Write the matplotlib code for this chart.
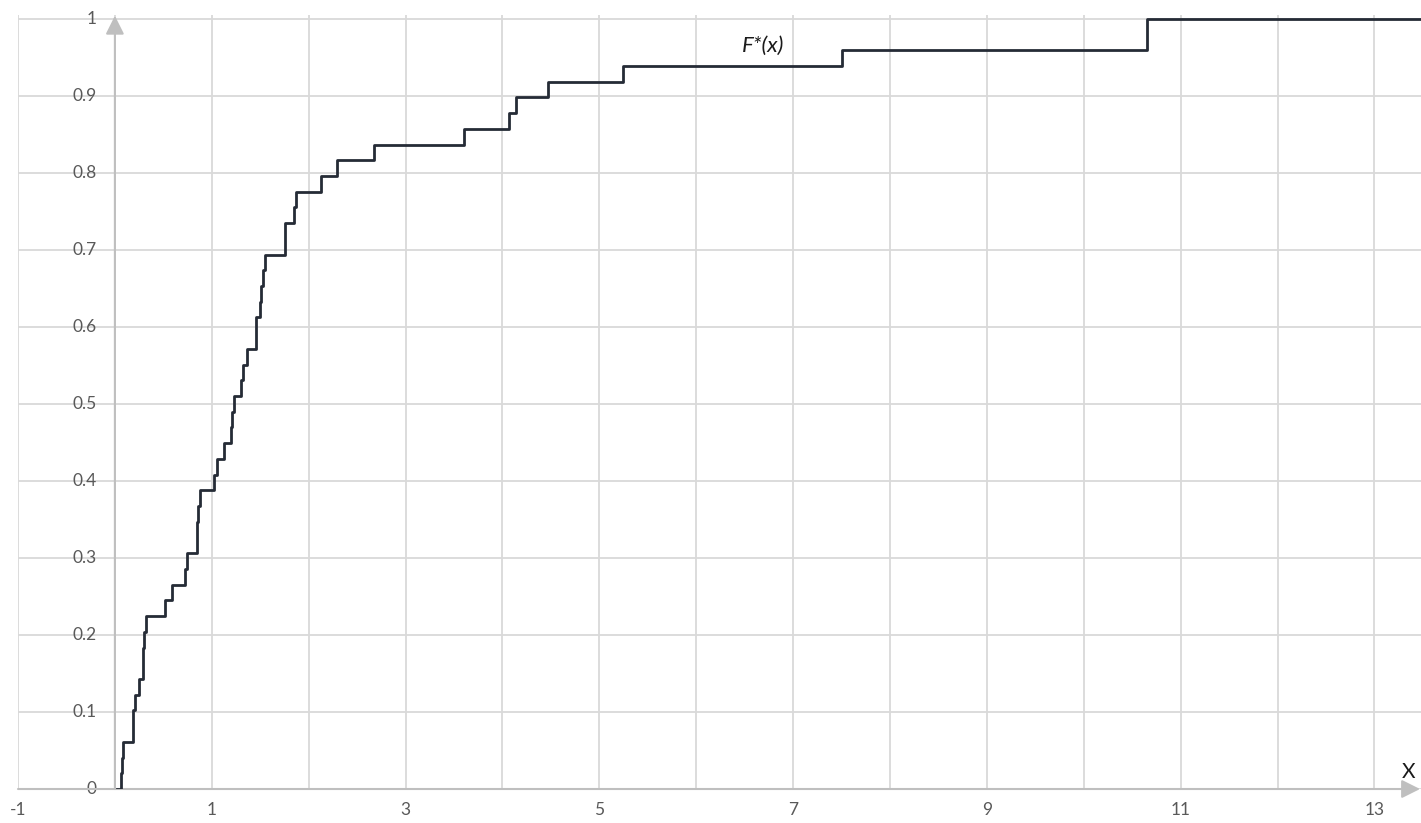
import numpy as np
import matplotlib.pyplot as plt

# Выборка, n = 49
sample = [0.061, 0.071, 0.082, 0.182, 0.188, 0.209, 0.244, 0.285, 0.285, 0.301,
          0.319, 0.518, 0.594, 0.724, 0.745, 0.852, 0.852, 0.861, 0.876, 1.024,
          1.051, 1.127, 1.196, 1.206, 1.230, 1.306, 1.317, 1.361, 1.459, 1.459,
          1.498, 1.508, 1.529, 1.550, 1.756, 1.756, 1.849, 1.870, 2.124, 2.297,
          2.674, 3.603, 4.067, 4.136, 4.474, 5.244, 7.503, 10.657, 10.657]
x_start = 0.02
x_end = 13.48
x_ticks = [-1, 1, 3, 5, 7, 9, 11, 13]
y_ticks = [0, 0.1, 0.2, 0.3, 0.4, 0.5, 0.6, 0.7, 0.8, 0.9, 1]
y_labels = ['0', '0.1', '0.2', '0.3', '0.4', '0.5', '0.6', '0.7', '0.8', '0.9', '1']

plt.rcParams['font.family'] = ['Lato', 'DejaVu Sans']

xs = np.sort(np.array(sample))
n = len(xs)
F = np.arange(1, n + 1) / n
step_x = np.concatenate([[x_start], xs, [x_end]])
step_y = np.concatenate([[0.0], F, [1.0]])

fig = plt.figure(figsize=(14.21, 8.23), dpi=100)
ax = fig.add_axes([0.01267, 0.0413, 1 - 0.01267, 0.9405])

ax.set_xlim(-1, x_end)
ax.set_ylim(0, 1.005)

# сетка
ax.set_xticks(np.arange(-1, 14, 1))
ax.set_yticks(y_ticks)
ax.grid(True, color='#d9d9d9', linewidth=1.3)
ax.set_axisbelow(True)
ax.tick_params(length=0, labelleft=False, labelbottom=False)
for s in ax.spines.values():
    s.set_visible(False)

# подписи осей
for xv in x_ticks:
    ax.text(xv, -0.017, str(xv), ha='center', va='top', fontsize=12.5, color='#595959')
for yv, lab in zip(y_ticks, y_labels):
    ax.text(-0.19, yv, lab, ha='right', va='center', fontsize=12.5, color='#595959')

# стрелки осей
ax.annotate('', xy=(0, 1.004), xytext=(0, 0),
            arrowprops=dict(arrowstyle='-|>', color='#bfbfbf', lw=1.5,
                            mutation_scale=28, shrinkA=0, shrinkB=0),
            annotation_clip=False)
ax.annotate('', xy=(13.47, 0), xytext=(-1, 0),
            arrowprops=dict(arrowstyle='-|>', color='#bfbfbf', lw=1.5,
                            mutation_scale=28, shrinkA=0, shrinkB=0),
            annotation_clip=False)

ax.step(step_x, step_y, where='post', color='#252b36', linewidth=2.0, zorder=5)

ax.text(6.695, 0.965, 'F*(x)', ha='center', va='center', fontsize=16, style='italic', color='#1a1a1a')
ax.text(13.35, 0.022, 'X', ha='center', va='center', fontsize=15, color='#1a1a1a')

fig.savefig('out.png', dpi=100)
